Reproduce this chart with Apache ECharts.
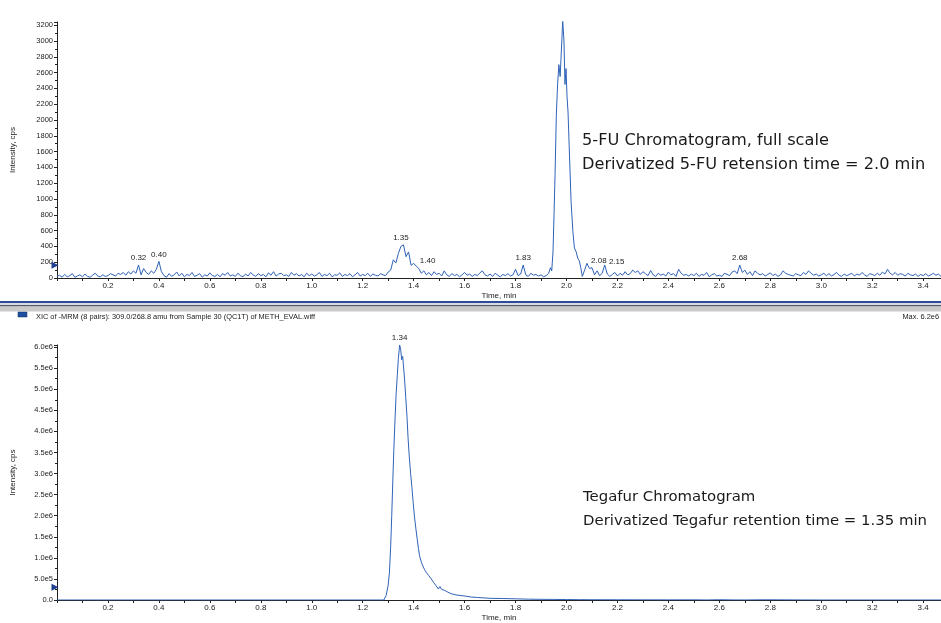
<!DOCTYPE html>
<html>
<head>
<meta charset="utf-8">
<script src="https://cdn.jsdelivr.net/npm/echarts@6/dist/echarts.min.js"></script>
<style>
html,body{margin:0;padding:0;background:#fff;}
#chart{width:941px;height:623px;}
</style>
</head>
<body>
<div id="chart"></div>
<script>
// ---------- DATA ----------
// 5-FU chromatogram baseline, sampled every 0.01 min from 0.00 (null = covered by fuPeak)
var fuStart = 0.0;
var fuStep = 0.01;
var fuBaseline = [
  20,35,10,45,15,30,55,10,25,40,
  15,50,20,10,35,60,25,15,40,20,
  30,55,40,25,60,45,70,35,80,50,
  90,60,165,40,120,70,45,90,60,110,
  210,80,30,10,55,20,40,75,25,60,
  15,45,30,70,20,35,55,10,40,25,
  65,30,20,45,15,55,35,70,25,40,
  20,60,30,15,50,25,70,40,20,55,
  30,45,15,65,35,80,25,50,60,30,
  40,20,70,35,55,25,45,15,60,30,
  50,25,40,70,20,45,30,60,15,40,
  35,65,20,45,30,55,15,40,70,25,
  45,30,60,20,50,35,25,55,40,30,
  75,100,230,190,310,400,420,270,330,160,
  186,150,120,60,90,40,70,30,80,45,
  60,25,90,40,20,55,30,45,15,40,
  70,35,50,20,45,30,65,90,40,25,
  50,20,60,35,15,45,30,55,25,40,
  110,30,50,164,40,20,60,35,45,25,
  40,15,30,60,null,null,null,null,null,null,
  null,null,null,null,null,null,null,90,186,120,
  130,40,90,30,60,164,50,20,45,70,
  25,60,35,80,40,55,100,70,90,45,
  80,55,30,95,40,20,60,35,50,25,
  75,40,55,20,110,60,35,45,25,50,
  30,60,20,45,35,70,15,40,55,25,
  35,20,60,45,30,75,90,55,164,70,
  100,45,80,30,90,60,40,55,25,45,
  65,30,50,20,40,90,60,45,35,25,
  55,40,30,70,45,90,60,35,50,25,
  40,60,30,55,25,45,70,35,20,50,
  30,45,60,25,50,35,70,40,20,55,
  45,30,60,35,75,50,110,60,40,70,
  35,55,45,25,60,40,30,50,20,45,
  30,55,25,40,60,35,50,20,45
];
// 5-FU main peak [time, intensity]
var fuPeakTime = [1.937,1.942,1.947,1.951,1.955,1.960,1.965,1.970,1.975,1.978,1.982,1.985,1.990,1.994,1.998,2.002,2.006,2.012,2.018,2.025,2.031,2.038,2.044,2.050,2.056,2.062];
var fuPeakValue = [130,90,330,800,1300,2060,2450,2700,2550,2750,3030,3260,3000,2450,2650,2300,2100,1520,960,590,380,330,250,220,130,20];
// Peak annotations of 5-FU trace
var fuLabelTime = [0.32,0.40,1.35,1.40,1.83,1.985,2.08,2.15,2.68];
var fuLabelValue = [165,210,420,186,164,3260,186,164,164];
var fuLabelText = ['0.32','0.40','1.35','1.40','1.83','1.98','2.08','2.15','2.68'];
var fuLabelShift = [0,0,0,14,0,0,12,12,0];

// Tegafur chromatogram [time, intensity]
var tgTime = [0.00,1.27,1.283,1.292,1.300,1.305,1.310,1.314,1.318,1.322,1.327,1.331,1.336,1.340,1.345,1.349,1.353,1.357,1.360,1.364,1.369,1.374,1.378,1.383,1.388,1.393,1.398,1.403,1.409,1.414,1.419,1.423,1.430,1.436,1.442,1.449,1.459,1.469,1.478,1.488,1.497,1.503,1.510,1.516,1.521,1.530,1.547,1.566,1.586,1.606,1.626,1.65,1.70,1.75,1.80,1.85,1.90,1.95,2.00,2.05,2.10,2.20,2.30,2.40,2.50,2.55,2.60,2.65,2.70,2.78,2.83,2.90,3.00,3.48];
var tgValue = [0,0,0,1.1e5,3.5e5,6.6e5,1.3e6,2.0e6,2.8e6,3.55e6,4.3e6,4.87e6,5.35e6,5.73e6,6.05e6,5.95e6,5.7e6,5.78e6,5.55e6,5.27e6,4.8e6,4.33e6,3.85e6,3.39e6,3.0e6,2.69e6,2.32e6,1.99e6,1.68e6,1.44e6,1.22e6,1.05e6,9.0e5,8.1e5,7.3e5,6.6e5,5.8e5,5.0e5,4.2e5,3.4e5,2.6e5,3.2e5,2.5e5,2.8e5,2.3e5,2.0e5,1.5e5,1.2e5,1.05e5,9e4,7e4,6e4,4e4,3.5e4,2.8e4,2.0e4,1.6e4,1.4e4,1.1e4,8e3,6e3,5e3,4e3,3e3,4e3,1e3,6e3,2e3,1e3,5e3,4e3,2e3,0,0];
var tgLabelTime = [1.345];
var tgLabelValue = [6.05e6];
var tgLabelText = ['1.34'];
var tgLabelShift = [0];

// Axis settings
var xMin = 0, xMax = 3.47, xInterval = 0.2;
var fuYMax = 3240, fuYInterval = 200;
var tgYMax = 6.05e6, tgYInterval = 5e5;

// ---------- BUILD ----------
var fuData = [];
fuBaseline.forEach(function (v, i) {
  if (v !== null) fuData.push([+(fuStart + i * fuStep).toFixed(3), v]);
});
fuPeakTime.forEach(function (t, i) { fuData.push([t, fuPeakValue[i]]); });
fuData.sort(function (a, b) { return a[0] - b[0]; });

var tgData = tgTime.map(function (t, i) { return [t, tgValue[i]]; });

function labelPoints(times, values, texts, shifts) {
  return times.map(function (t, i) {
    var p = { coord: [t, values[i]], value: texts[i] };
    if (shifts[i]) p.label = { offset: [shifts[i], 4] };
    return p;
  });
}

var FONT = 'Liberation Sans, Arial, sans-serif';
var AFONT_TOP = '16.2px "DejaVu Sans", Verdana, sans-serif';
var AFONT_BOT = '14.9px "DejaVu Sans", Verdana, sans-serif';
var LINE = '#2f62b8';

function xAxisCfg(grid) {
  return {
    type: 'value', gridIndex: grid, min: xMin, max: xMax, interval: xInterval,
    name: 'Time, min', nameLocation: 'middle', nameGap: 14,
    nameTextStyle: { fontSize: 8, color: '#222', fontFamily: FONT },
    axisLine: { show: true, lineStyle: { color: '#222', width: 1 } },
    axisTick: { show: true, length: 3, lineStyle: { color: '#222' } },
    minorTick: { show: true, splitNumber: 2, length: 3, lineStyle: { color: '#222' } },
    axisLabel: {
      fontSize: 8, color: '#222', fontFamily: FONT, margin: 4,
      showMinLabel: false, showMaxLabel: false,
      formatter: function (v) { return v.toFixed(1); }
    },
    splitLine: { show: false }
  };
}

function yAxisCfg(grid, max, interval, fmt) {
  return {
    type: 'value', gridIndex: grid, min: 0, max: max, interval: interval,
    name: 'Intensity, cps', nameLocation: 'middle', nameGap: 40,
    nameTextStyle: { fontSize: 8, color: '#222', fontFamily: FONT },
    axisLine: { show: true, lineStyle: { color: '#222', width: 1 } },
    axisTick: { show: true, length: 3, lineStyle: { color: '#222' } },
    minorTick: { show: true, splitNumber: 2, length: 2, lineStyle: { color: '#222' } },
    axisLabel: { fontSize: 7.5, color: '#222', fontFamily: FONT, margin: 4, showMaxLabel: false, formatter: fmt },
    splitLine: { show: false }
  };
}

function tgFmt(v) {
  if (v === 0) return '0.0';
  if (v < 1e6) return (v / 1e5).toFixed(1) + 'e5';
  return (v / 1e6).toFixed(1) + 'e6';
}

var labelStyle = { show: true, position: 'top', distance: 3, fontSize: 8, color: '#222', fontFamily: FONT, formatter: '{c}' };

var chart = echarts.init(document.getElementById('chart'), null, { renderer: 'canvas' });
chart.setOption({
  animation: false,
  backgroundColor: '#fff',
  grid: [
    { left: 57, right: 0, top: 22, bottom: 345, containLabel: false },
    { left: 57, right: 0, top: 345, bottom: 20, containLabel: false }
  ],
  xAxis: [xAxisCfg(0), xAxisCfg(1)],
  yAxis: [
    yAxisCfg(0, fuYMax, fuYInterval, function (v) { return String(v); }),
    yAxisCfg(1, tgYMax, tgYInterval, tgFmt)
  ],
  series: [
    {
      type: 'line', xAxisIndex: 0, yAxisIndex: 0, data: fuData, showSymbol: false, symbol: 'none',
      lineStyle: { color: LINE, width: 1 }, clip: true,
      markPoint: {
        symbol: 'circle', symbolSize: 0, label: labelStyle,
        data: labelPoints(fuLabelTime, fuLabelValue, fuLabelText, fuLabelShift).concat([
          { coord: [0, 160], symbol: 'triangle', symbolSize: 7, symbolRotate: -90, symbolOffset: [-2, 0],
            itemStyle: { color: '#1f3f8f' }, label: { show: false } }
        ])
      }
    },
    {
      type: 'line', xAxisIndex: 1, yAxisIndex: 1, data: tgData, showSymbol: false, symbol: 'none',
      lineStyle: { color: LINE, width: 1 }, clip: true,
      markPoint: {
        symbol: 'circle', symbolSize: 0, label: labelStyle,
        data: labelPoints(tgLabelTime, tgLabelValue, tgLabelText, tgLabelShift).concat([
          { coord: [0, 3.0e5], symbol: 'triangle', symbolSize: 7, symbolRotate: -90, symbolOffset: [-2, 0],
            itemStyle: { color: '#1f3f8f' }, label: { show: false } }
        ])
      }
    }
  ],
  graphic: [
    // separator bars between panels
    { type: 'rect', shape: { x: 0, y: 301, width: 941, height: 2 }, style: { fill: '#2c4c93' } },
    { type: 'rect', shape: { x: 0, y: 303, width: 941, height: 2 }, style: { fill: '#d8dbe6' } },
    { type: 'rect', shape: { x: 0, y: 305, width: 941, height: 1.5 }, style: { fill: '#555a66' } },
    { type: 'rect', shape: { x: 0, y: 306.5, width: 941, height: 5 }, style: { fill: '#c9c9c9' } },
    // legend row
    { type: 'rect', shape: { x: 18, y: 312, width: 9, height: 5 }, style: { fill: '#1f4f9f', stroke: '#10306a', lineWidth: 0.5 } },
    { type: 'text', left: 36, top: 313, style: { text: 'XIC of -MRM (8 pairs): 309.0/268.8 amu from Sample 30 (QC1T) of METH_EVAL.wiff', font: '7.4px ' + FONT, fill: '#222' } },
    { type: 'text', right: 2, top: 313, style: { text: 'Max. 6.2e6', font: '7.4px ' + FONT, fill: '#222' } },
    // annotations
    { type: 'text', left: 582, top: 133, style: { text: '5-FU Chromatogram, full scale', font: AFONT_TOP, fill: '#1a1a1a' } },
    { type: 'text', left: 582, top: 157, style: { text: 'Derivatized 5-FU retension time = 2.0 min', font: AFONT_TOP, fill: '#1a1a1a' } },
    { type: 'text', left: 583, top: 490, style: { text: 'Tegafur Chromatogram', font: AFONT_BOT, fill: '#1a1a1a' } },
    { type: 'text', left: 583, top: 514, style: { text: 'Derivatized Tegafur retention time = 1.35 min', font: AFONT_BOT, fill: '#1a1a1a' } }
  ]
});
</script>
</body>
</html>
